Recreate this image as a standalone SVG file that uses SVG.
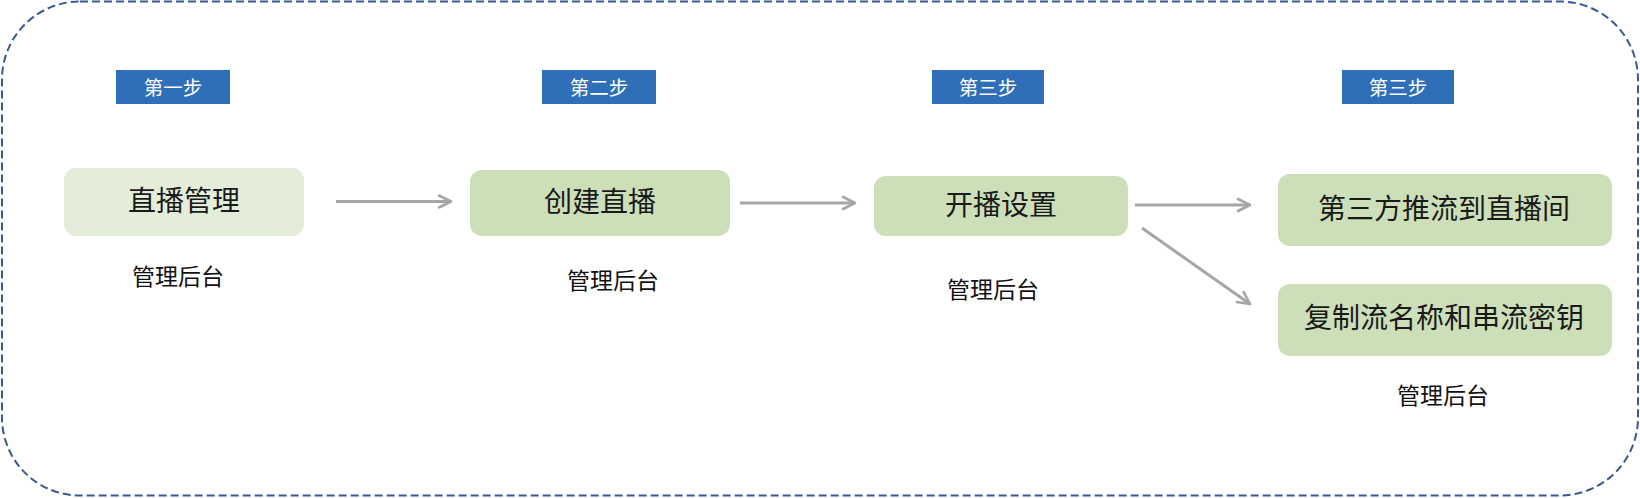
<svg xmlns="http://www.w3.org/2000/svg" width="1640" height="498" viewBox="0 0 1640 498">
<defs>
<marker id="arr" viewBox="0 0 16 16" refX="14" refY="8" markerWidth="16" markerHeight="16" markerUnits="userSpaceOnUse" orient="auto">
<path d="M2,2 L14,8 L2,14" fill="none" stroke="#A6A6A6" stroke-width="2.6" stroke-linecap="round" stroke-linejoin="round"/>
</marker>
</defs>
<style>
text{font-family:"Noto Sans CJK SC","Noto Sans",sans-serif;text-anchor:middle;dominant-baseline:central}
.badge rect{fill:#2E6FB8}
.badge text{fill:#ffffff;font-size:19.5px}
.node rect{fill:#CCDFB9}
.node text{fill:#1a1a1a;font-size:28px}
.lbl{fill:#111;font-size:23px}
.conn line{stroke:#A6A6A6;stroke-width:3;fill:none;marker-end:url(#arr)}
</style>
<rect x="2" y="1.5" width="1636" height="494" rx="78" ry="78" fill="#ffffff" stroke="#3B5896" stroke-width="2" stroke-dasharray="8 4"/>
<g id="badge1" class="badge"><rect x="116" y="70" width="114" height="34"/><text x="173" y="86">第一步</text></g>
<g id="badge2" class="badge"><rect x="542" y="70" width="114" height="34"/><text x="599" y="86">第二步</text></g>
<g id="badge3" class="badge"><rect x="932" y="70" width="112" height="34"/><text x="988" y="86">第三步</text></g>
<g id="badge4" class="badge"><rect x="1342" y="70" width="112" height="34"/><text x="1398" y="86">第三步</text></g>
<g id="node1" class="node"><rect x="64" y="168" width="240" height="68" rx="12" style="fill:#E4EDD9"/><text x="184" y="199">直播管理</text></g>
<g id="node2" class="node"><rect x="470" y="170" width="260" height="66" rx="12"/><text x="600" y="200">创建直播</text></g>
<g id="node3" class="node"><rect x="874" y="176" width="254" height="60" rx="12"/><text x="1001" y="203">开播设置</text></g>
<g id="node4" class="node"><rect x="1278" y="174" width="334" height="72" rx="12"/><text x="1444" y="207">第三方推流到直播间</text></g>
<g id="node5" class="node"><rect x="1278" y="284" width="334" height="72" rx="12"/><text x="1444" y="316">复制流名称和串流密钥</text></g>
<g id="labels">
<text class="lbl" x="178" y="275">管理后台</text>
<text class="lbl" x="613" y="279">管理后台</text>
<text class="lbl" x="993" y="288">管理后台</text>
<text class="lbl" x="1443" y="394">管理后台</text>
</g>
<g id="connectors" class="conn">
<line x1="336" y1="201.5" x2="451" y2="201.5"/>
<line x1="740" y1="203" x2="855" y2="203"/>
<line x1="1135" y1="205" x2="1250" y2="205"/>
<line x1="1142" y1="228" x2="1250" y2="304"/>
</g>
</svg>
